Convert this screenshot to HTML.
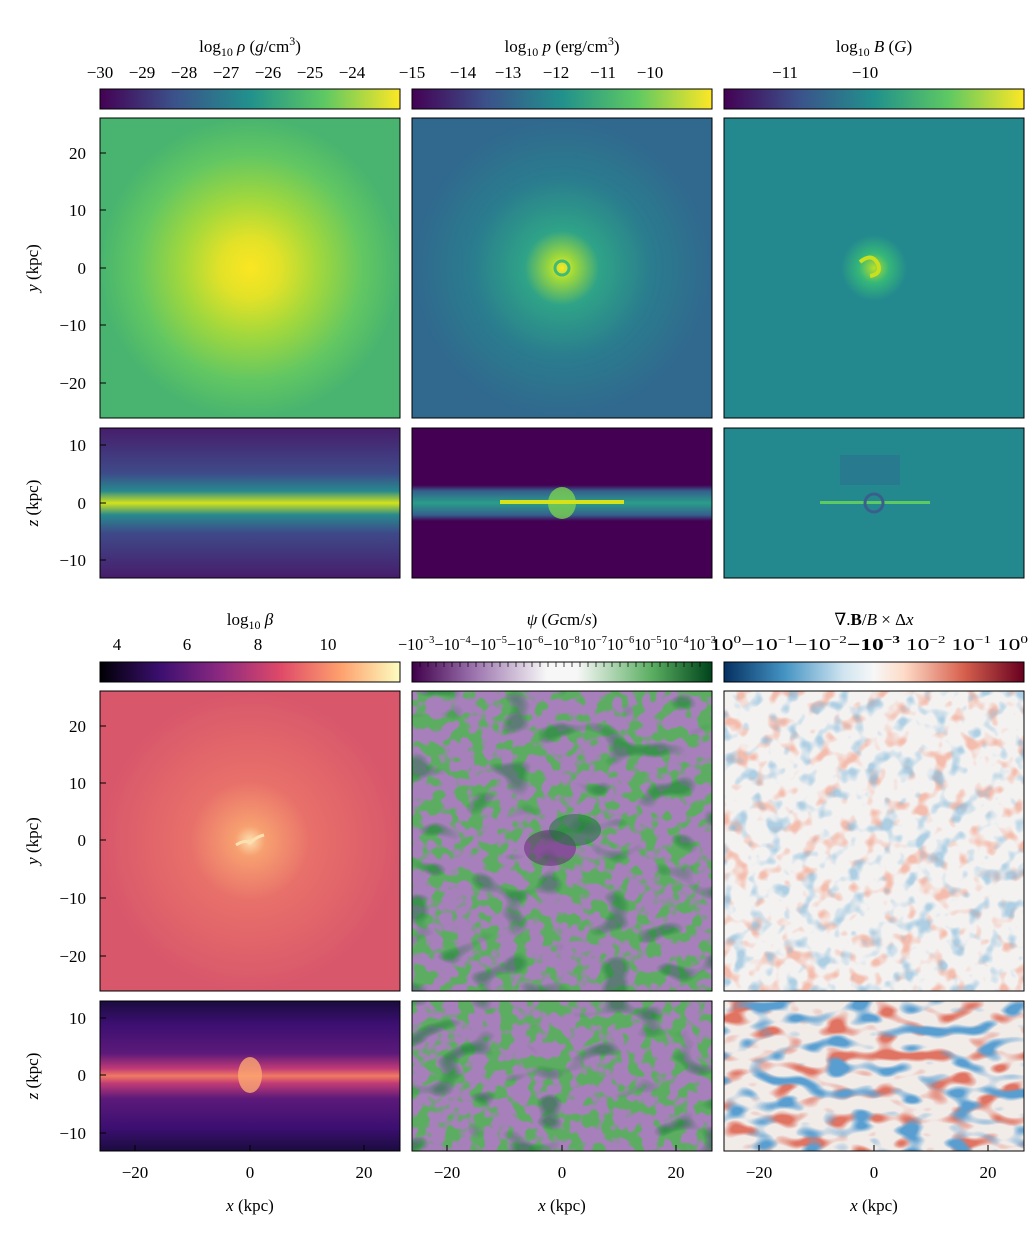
<!DOCTYPE html>
<html><head><meta charset="utf-8">
<style>
html,body{margin:0;padding:0;background:#fff;}
svg text{font-family:"Liberation Serif","DejaVu Serif",serif;font-size:17px;fill:#000;}
filter{color-interpolation-filters:sRGB;}
</style></head><body>
<svg width="1036" height="1252" viewBox="0 0 1036 1252" xmlns="http://www.w3.org/2000/svg">
<defs>
<linearGradient id="vir" x1="0" x2="1"><stop offset="0" stop-color="#440154"/><stop offset="0.25" stop-color="#3b528b"/><stop offset="0.5" stop-color="#21918c"/><stop offset="0.75" stop-color="#5ec962"/><stop offset="1" stop-color="#fde725"/></linearGradient>
<linearGradient id="mag" x1="0" x2="1"><stop offset="0" stop-color="#000004"/><stop offset="0.2" stop-color="#3b0f70"/><stop offset="0.4" stop-color="#8c2981"/><stop offset="0.6" stop-color="#de4968"/><stop offset="0.8" stop-color="#fe9f6d"/><stop offset="1" stop-color="#fcfdbf"/></linearGradient>
<linearGradient id="prgn" x1="0" x2="1"><stop offset="0" stop-color="#40004b"/><stop offset="0.2" stop-color="#9970ab"/><stop offset="0.45" stop-color="#f7f7f7"/><stop offset="0.55" stop-color="#f7f7f7"/><stop offset="0.8" stop-color="#5aae61"/><stop offset="1" stop-color="#00441b"/></linearGradient>
<linearGradient id="rdbu" x1="0" x2="1"><stop offset="0" stop-color="#053061"/><stop offset="0.2" stop-color="#4393c3"/><stop offset="0.4" stop-color="#d1e5f0"/><stop offset="0.5" stop-color="#f7f7f7"/><stop offset="0.6" stop-color="#fddbc7"/><stop offset="0.8" stop-color="#d6604d"/><stop offset="1" stop-color="#67001f"/></linearGradient>
<radialGradient id="rho"><stop offset="0" stop-color="#fbe622"/><stop offset="0.2" stop-color="#e2e228"/><stop offset="0.45" stop-color="#a2d83c"/><stop offset="0.75" stop-color="#62c762"/><stop offset="1" stop-color="#48b46f"/></radialGradient>
<radialGradient id="pr"><stop offset="0" stop-color="#fde725"/><stop offset="0.08" stop-color="#9fd93a"/><stop offset="0.25" stop-color="#2fa387"/><stop offset="0.6" stop-color="#2a7c8e"/><stop offset="1" stop-color="#31688e"/></radialGradient>
<radialGradient id="bb"><stop offset="0" stop-color="#b5de2b"/><stop offset="0.1" stop-color="#35b779"/><stop offset="0.22" stop-color="#23898e"/><stop offset="1" stop-color="#23898e"/></radialGradient>
<radialGradient id="beta"><stop offset="0" stop-color="#fde0b0"/><stop offset="0.1" stop-color="#f7a070"/><stop offset="0.4" stop-color="#e8706a"/><stop offset="1" stop-color="#d8576b"/></radialGradient>
<linearGradient id="z1" x1="0" y1="0" x2="0" y2="1"><stop offset="0" stop-color="#471d6b"/><stop offset="0.3" stop-color="#3e4a89"/><stop offset="0.42" stop-color="#27898e"/><stop offset="0.5" stop-color="#d2e21b"/><stop offset="0.58" stop-color="#27898e"/><stop offset="0.7" stop-color="#3e4a89"/><stop offset="1" stop-color="#471d6b"/></linearGradient>
<linearGradient id="z2" x1="0" y1="0" x2="0" y2="1"><stop offset="0" stop-color="#440154"/><stop offset="0.38" stop-color="#440154"/><stop offset="0.42" stop-color="#355f8d"/><stop offset="0.5" stop-color="#2a9d8a"/><stop offset="0.58" stop-color="#355f8d"/><stop offset="0.62" stop-color="#440154"/><stop offset="1" stop-color="#440154"/></linearGradient>
<linearGradient id="z4" x1="0" y1="0" x2="0" y2="1"><stop offset="0" stop-color="#1a0c3e"/><stop offset="0.15" stop-color="#3b0f70"/><stop offset="0.35" stop-color="#5c1a7a"/><stop offset="0.45" stop-color="#c03a76"/><stop offset="0.5" stop-color="#f07a62"/><stop offset="0.55" stop-color="#c03a76"/><stop offset="0.65" stop-color="#5c1a7a"/><stop offset="0.85" stop-color="#3b0f70"/><stop offset="1" stop-color="#1a0c3e"/></linearGradient>
<filter id="grn" x="0" y="0" width="100%" height="100%" color-interpolation-filters="sRGB"><feTurbulence type="fractalNoise" baseFrequency="0.07" numOctaves="2" seed="11"/><feColorMatrix type="matrix" values="0 0 0 0 0.36  0 0 0 0 0.68  0 0 0 0 0.38  8 0 0 0 -3.8"/></filter>
<filter id="grn2" x="0" y="0" width="100%" height="100%" color-interpolation-filters="sRGB"><feTurbulence type="fractalNoise" baseFrequency="0.03 0.05" numOctaves="1" seed="4"/><feColorMatrix type="matrix" values="0 0 0 0 0.1  0 0 0 0 0.47  0 0 0 0 0.22  8 0 0 0 -4.6"/></filter>
<filter id="red" x="0" y="0" width="100%" height="100%" color-interpolation-filters="sRGB"><feTurbulence type="fractalNoise" baseFrequency="0.06" numOctaves="2" seed="5"/><feColorMatrix type="matrix" values="0 0 0 0 0.96  0 0 0 0 0.6  0 0 0 0 0.5  5 0 0 0 -2.7"/></filter>
<filter id="blu" x="0" y="0" width="100%" height="100%" color-interpolation-filters="sRGB"><feTurbulence type="fractalNoise" baseFrequency="0.06" numOctaves="2" seed="9"/><feColorMatrix type="matrix" values="0 0 0 0 0.5  0 0 0 0 0.72  0 0 0 0 0.86  5 0 0 0 -2.7"/></filter>
<filter id="redz" x="0" y="0" width="100%" height="100%" color-interpolation-filters="sRGB"><feTurbulence type="fractalNoise" baseFrequency="0.04 0.08" numOctaves="1" seed="2"/><feColorMatrix type="matrix" values="0 0 0 0 0.88  0 0 0 0 0.45  0 0 0 0 0.38  6 0 0 0 -3.1"/></filter>
<filter id="bluz" x="0" y="0" width="100%" height="100%" color-interpolation-filters="sRGB"><feTurbulence type="fractalNoise" baseFrequency="0.04 0.08" numOctaves="1" seed="8"/><feColorMatrix type="matrix" values="0 0 0 0 0.35  0 0 0 0 0.62  0 0 0 0 0.82  6 0 0 0 -3.1"/></filter>
</defs>

<rect x="100" y="89" width="300" height="20" fill="url(#vir)" stroke="#000"/>
<rect x="412" y="89" width="300" height="20" fill="url(#vir)" stroke="#000"/>
<rect x="724" y="89" width="300" height="20" fill="url(#vir)" stroke="#000"/>
<text x="250" y="52" text-anchor="middle">log<tspan font-size="12" dy="4">10</tspan><tspan dy="-4"> </tspan><tspan font-style="italic">ρ</tspan> (<tspan font-style="italic">g</tspan>/cm<tspan font-size="12" dy="-7">3</tspan><tspan dy="7">)</tspan></text>
<text x="562" y="52" text-anchor="middle">log<tspan font-size="12" dy="4">10</tspan><tspan dy="-4"> </tspan><tspan font-style="italic">p</tspan> (erg/cm<tspan font-size="12" dy="-7">3</tspan><tspan dy="7">)</tspan></text>
<text x="874" y="52" text-anchor="middle">log<tspan font-size="12" dy="4">10</tspan><tspan dy="-4"> </tspan><tspan font-style="italic">B</tspan> (<tspan font-style="italic">G</tspan>)</text>
<g text-anchor="middle">
<text x="100" y="78">−30</text><text x="142" y="78">−29</text><text x="184" y="78">−28</text><text x="226" y="78">−27</text><text x="268" y="78">−26</text><text x="310" y="78">−25</text><text x="352" y="78">−24</text>
<text x="412" y="78">−15</text><text x="463" y="78">−14</text><text x="508" y="78">−13</text><text x="556" y="78">−12</text><text x="603" y="78">−11</text><text x="650" y="78">−10</text>
<text x="785" y="78">−11</text><text x="865" y="78">−10</text>
</g>

<rect x="100" y="118" width="300" height="300" fill="url(#rho)"/>
<rect x="100" y="118" width="300" height="300" fill="none" stroke="#000"/>
<rect x="412" y="118" width="300" height="300" fill="url(#pr)"/>
<circle cx="562" cy="268" r="7" fill="none" stroke="#3fbc73" stroke-width="3"/>
<rect x="412" y="118" width="300" height="300" fill="none" stroke="#000"/>
<rect x="724" y="118" width="300" height="300" fill="url(#bb)"/>
<path d="M860 262 q12 -10 18 2 q4 10 -8 12" fill="none" stroke="#c8e020" stroke-width="4"/>
<rect x="724" y="118" width="300" height="300" fill="none" stroke="#000"/>

<rect x="100" y="428" width="300" height="150" fill="url(#z1)" stroke="#000"/>
<rect x="412" y="428" width="300" height="150" fill="url(#z2)" stroke="#000"/>
<ellipse cx="562" cy="503" rx="14" ry="16" fill="#7ad151" opacity="0.8"/>
<rect x="500" y="500" width="124" height="4" fill="#d8e219"/>
<rect x="724" y="428" width="300" height="150" fill="#23898e" stroke="#000"/>
<rect x="840" y="455" width="60" height="30" fill="#2c728e" opacity="0.6"/>
<rect x="820" y="501" width="110" height="3" fill="#5ec962"/>
<circle cx="874" cy="503" r="9" fill="none" stroke="#3a5f8c" stroke-width="3"/>

<rect x="100" y="662" width="300" height="20" fill="url(#mag)" stroke="#000"/>
<rect x="412" y="662" width="300" height="20" fill="url(#prgn)" stroke="#000"/>
<rect x="724" y="662" width="300" height="20" fill="url(#rdbu)" stroke="#000"/>
<text x="250" y="625" text-anchor="middle">log<tspan font-size="12" dy="4">10</tspan><tspan dy="-4"> </tspan><tspan font-style="italic">β</tspan></text>
<text x="562" y="625" text-anchor="middle"><tspan font-style="italic">ψ</tspan> (<tspan font-style="italic">G</tspan>cm/<tspan font-style="italic">s</tspan>)</text>
<text x="874" y="625" text-anchor="middle">∇.<tspan font-weight="bold">B</tspan>/<tspan font-style="italic">B</tspan> × Δ<tspan font-style="italic">x</tspan></text>
<g text-anchor="middle">
<text x="117" y="650">4</text><text x="187" y="650">6</text><text x="258" y="650">8</text><text x="328" y="650">10</text>
</g>
<text x="398" y="650" font-size="16" textLength="318" lengthAdjust="spacingAndGlyphs">−10<tspan font-size="11" dy="-7">−3</tspan><tspan dy="7">−10</tspan><tspan font-size="11" dy="-7">−4</tspan><tspan dy="7">−10</tspan><tspan font-size="11" dy="-7">−5</tspan><tspan dy="7">−10</tspan><tspan font-size="11" dy="-7">−6</tspan><tspan dy="7">−10</tspan><tspan font-size="11" dy="-7">−8</tspan><tspan dy="7">10</tspan><tspan font-size="11" dy="-7">−7</tspan><tspan dy="7">10</tspan><tspan font-size="11" dy="-7">−6</tspan><tspan dy="7">10</tspan><tspan font-size="11" dy="-7">−5</tspan><tspan dy="7">10</tspan><tspan font-size="11" dy="-7">−4</tspan><tspan dy="7">10</tspan><tspan font-size="11" dy="-7">−3</tspan></text>
<text x="710" y="650" font-size="15" textLength="318" lengthAdjust="spacingAndGlyphs">10<tspan font-size="11" dy="-7">0</tspan><tspan dy="7">−10</tspan><tspan font-size="11" dy="-7">−1</tspan><tspan dy="7">−10</tspan><tspan font-size="11" dy="-7">−2</tspan><tspan dy="7" font-weight="bold">−10</tspan><tspan font-size="11" dy="-7" font-weight="bold">−3</tspan><tspan dy="7"> 10</tspan><tspan font-size="11" dy="-7">−2</tspan><tspan dy="7">  10</tspan><tspan font-size="11" dy="-7">−1</tspan><tspan dy="7">   10</tspan><tspan font-size="11" dy="-7">0</tspan></text>
<g stroke="#000" stroke-width="0.7">
<path d="M420 662v5M428 662v5M436 662v5M444 662v5M452 662v5M460 662v5M468 662v5M476 662v5M484 662v5M492 662v5M500 662v5M508 662v5M516 662v5M524 662v5M532 662v5M540 662v5M548 662v5M556 662v5M564 662v5M572 662v5M580 662v5M588 662v5M596 662v5M604 662v5M612 662v5M620 662v5M628 662v5M636 662v5M644 662v5M652 662v5M660 662v5M668 662v5M676 662v5M684 662v5M692 662v5M700 662v5"/>
</g>

<rect x="100" y="691" width="300" height="300" fill="url(#beta)"/>
<path d="M236 845 q10 -6 14 -2 q6 -6 14 -8" fill="none" stroke="#fde0b0" stroke-width="3"/>
<rect x="100" y="691" width="300" height="300" fill="none" stroke="#000"/>
<rect x="412" y="691" width="300" height="300" fill="#a77fba"/>
<rect x="412" y="691" width="300" height="300" filter="url(#grn)"/>
<rect x="412" y="691" width="300" height="300" filter="url(#grn2)" opacity="0.5"/>
<ellipse cx="550" cy="848" rx="26" ry="18" fill="#6a2a7a" opacity="0.55"/>
<ellipse cx="575" cy="830" rx="26" ry="16" fill="#1b7837" opacity="0.55"/>
<rect x="412" y="691" width="300" height="300" fill="none" stroke="#000"/>
<rect x="724" y="691" width="300" height="300" fill="#f4f2f1"/>
<rect x="724" y="691" width="300" height="300" filter="url(#red)" opacity="0.6"/>
<rect x="724" y="691" width="300" height="300" filter="url(#blu)" opacity="0.6"/>
<rect x="724" y="691" width="300" height="300" fill="none" stroke="#000"/>

<rect x="100" y="1001" width="300" height="150" fill="url(#z4)"/>
<ellipse cx="250" cy="1075" rx="12" ry="18" fill="#fca872" opacity="0.8"/>
<rect x="100" y="1001" width="300" height="150" fill="none" stroke="#000"/>
<rect x="412" y="1001" width="300" height="150" fill="#a77fba"/>
<rect x="412" y="1001" width="300" height="150" filter="url(#grn)"/>
<rect x="412" y="1001" width="300" height="150" filter="url(#grn2)" opacity="0.6"/>
<rect x="412" y="1001" width="300" height="150" fill="none" stroke="#000"/>
<rect x="724" y="1001" width="300" height="150" fill="#f2ece9"/>
<rect x="724" y="1001" width="300" height="150" filter="url(#redz)"/>
<rect x="724" y="1001" width="300" height="150" filter="url(#bluz)"/>
<rect x="724" y="1001" width="300" height="150" fill="none" stroke="#000"/>

<g text-anchor="end">
<text x="86" y="159">20</text><text x="86" y="216">10</text><text x="86" y="274">0</text><text x="86" y="331">−10</text><text x="86" y="389">−20</text>
<text x="86" y="451">10</text><text x="86" y="509">0</text><text x="86" y="566">−10</text>
<text x="86" y="732">20</text><text x="86" y="789">10</text><text x="86" y="846">0</text><text x="86" y="904">−10</text><text x="86" y="962">−20</text>
<text x="86" y="1024">10</text><text x="86" y="1081">0</text><text x="86" y="1139">−10</text>
</g>
<text transform="translate(38 268) rotate(-90)" text-anchor="middle"><tspan font-style="italic">y</tspan> (kpc)</text>
<text transform="translate(38 503) rotate(-90)" text-anchor="middle"><tspan font-style="italic">z</tspan> (kpc)</text>
<text transform="translate(38 841) rotate(-90)" text-anchor="middle"><tspan font-style="italic">y</tspan> (kpc)</text>
<text transform="translate(38 1076) rotate(-90)" text-anchor="middle"><tspan font-style="italic">z</tspan> (kpc)</text>

<g text-anchor="middle">
<text x="135" y="1178">−20</text><text x="250" y="1178">0</text><text x="364" y="1178">20</text>
<text x="447" y="1178">−20</text><text x="562" y="1178">0</text><text x="676" y="1178">20</text>
<text x="759" y="1178">−20</text><text x="874" y="1178">0</text><text x="988" y="1178">20</text>
<text x="250" y="1211"><tspan font-style="italic">x</tspan> (kpc)</text>
<text x="562" y="1211"><tspan font-style="italic">x</tspan> (kpc)</text>
<text x="874" y="1211"><tspan font-style="italic">x</tspan> (kpc)</text>
</g>
<g stroke="#000" stroke-width="1">
<path d="M135 1151v-6M250 1151v-6M364 1151v-6M447 1151v-6M562 1151v-6M676 1151v-6M759 1151v-6M874 1151v-6M988 1151v-6"/>
<path d="M100 153h6M100 210h6M100 268h6M100 325h6M100 383h6M100 445h6M100 503h6M100 560h6M100 726h6M100 783h6M100 840h6M100 898h6M100 956h6M100 1018h6M100 1075h6M100 1133h6"/>
</g>
</svg>
</body></html>
